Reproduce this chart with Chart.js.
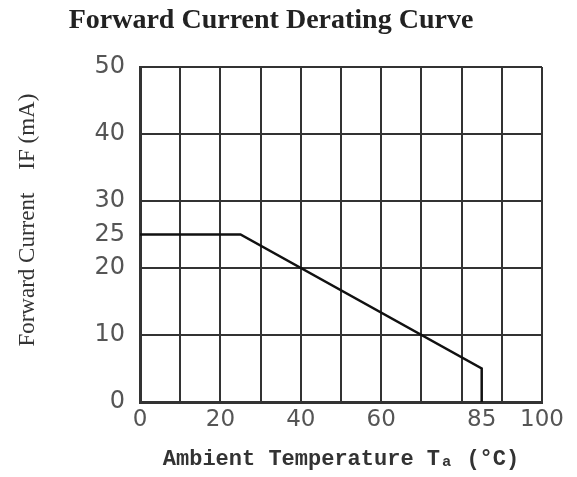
<!DOCTYPE html>
<html>
<head>
<meta charset="utf-8">
<script src="https://cdn.jsdelivr.net/npm/chart.js@4"></script>
<style>
  html, body { margin: 0; padding: 0; background: #fff; }
  #wrap { width: 577px; height: 477px; position: relative; }
</style>
</head>
<body>
<div id="wrap"><canvas id="deratingChart"></canvas></div>
<script>
// Derating curve
const temperature = [0, 25, 85, 85];
const forwardCurrent = [25, 25, 5, 0];

// Grid and labels
const xGridValues = [0, 10, 20, 30, 40, 50, 60, 70, 80, 85, 90, 100];
const xTickLabels = [0, 20, 40, 60, 85, 100];
const yGridValues = [0, 10, 20, 25, 30, 40, 50];
const yTickLabels = [0, 10, 20, 25, 30, 40, 50];
const hiddenGridX = [85];
const hiddenGridY = [25];

const gridColor = '#333';

const ctx = document.getElementById('deratingChart');
new Chart(ctx, {
    type: 'line',
    data: {
        datasets: [{
            data: temperature.map((t, i) => ({ x: t, y: forwardCurrent[i] })),
            borderColor: '#111',
            borderWidth: 2.5,
            pointRadius: 0,
            tension: 0,
            fill: false
        }]
    },
    options: {
        responsive: true,
        maintainAspectRatio: false,
        animation: false,
        layout: { padding: { left: 0, right: 35, top: 0, bottom: 0 } },
        plugins: {
            legend: { display: false },
            tooltip: { enabled: false },
            title: {
                display: true,
                text: 'Forward Current Derating Curve',
                color: '#222',
                font: { family: 'Liberation Serif', size: 28, weight: 'bold', lineHeight: 1.2 },
                padding: { top: 4, bottom: 29.4 }
            }
        },
        scales: {
            x: {
                type: 'linear',
                min: 0,
                max: 100,
                afterBuildTicks: scale => { scale.ticks = xGridValues.map(v => ({ value: v })); },
                afterFit: scale => { scale.height = 75; },
                ticks: {
                    autoSkip: false,
                    maxRotation: 0,
                    padding: 4,
                    color: '#555',
                    font: { family: 'DejaVu Sans', size: 23 },
                    callback: value => xTickLabels.includes(value) ? String(value) : ''
                },
                grid: {
                    drawTicks: false,
                    lineWidth: 2,
                    color: c => (c.tick && hiddenGridX.includes(c.tick.value)) ? 'rgba(0,0,0,0)' : gridColor
                },
                border: { color: '#333', width: 3 },
                title: {
                    display: true,
                    text: 'Ambient Temperature Tₐ (°C)',
                    color: '#333',
                    font: { family: 'Liberation Mono', size: 22, weight: 'bold', lineHeight: 1.2 },
                    padding: { top: 0, bottom: 4 }
                }
            },
            y: {
                type: 'linear',
                min: 0,
                max: 50,
                afterBuildTicks: scale => { scale.ticks = yGridValues.map(v => ({ value: v })); },
                afterFit: scale => { scale.width = 140; },
                ticks: {
                    autoSkip: false,
                    padding: 15,
                    color: '#555',
                    font: { family: 'DejaVu Sans', size: 24 },
                    callback: value => yTickLabels.includes(value) ? String(value) : ''
                },
                grid: {
                    drawTicks: false,
                    lineWidth: 2,
                    color: c => (c.tick && hiddenGridY.includes(c.tick.value)) ? 'rgba(0,0,0,0)' : gridColor
                },
                border: { color: '#333', width: 3 },
                title: {
                    display: true,
                    text: '     Forward Current    IF (mA)',
                    color: '#333',
                    font: { family: 'Liberation Serif', size: 23, lineHeight: 1.2 },
                    padding: { top: 14, bottom: 0 }
                }
            }
        }
    }
});
</script>
</body>
</html>
